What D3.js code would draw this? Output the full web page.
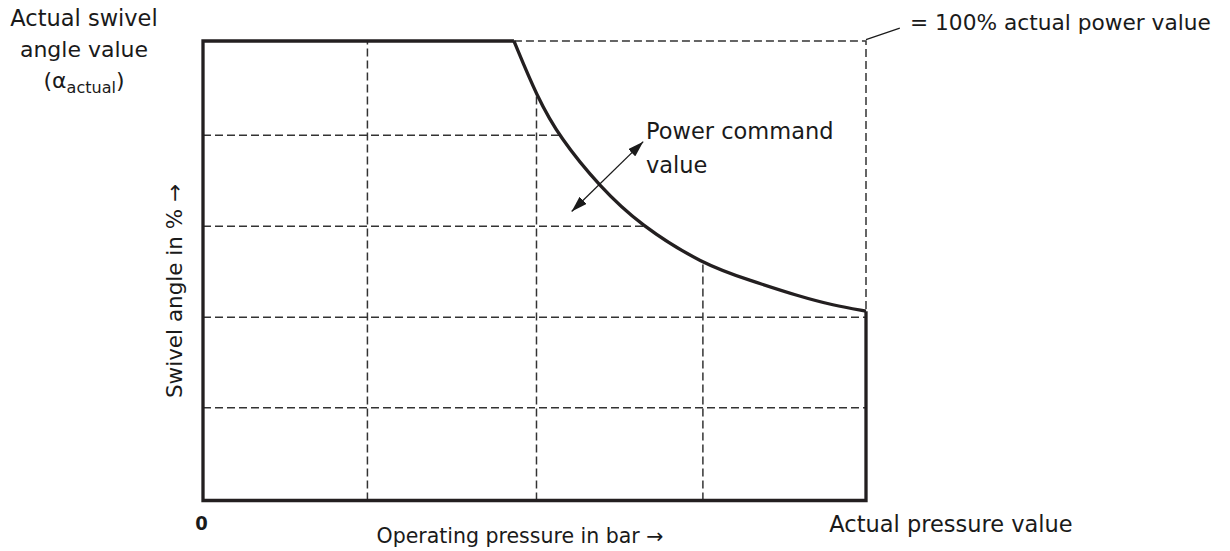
<!DOCTYPE html>
<html>
<head>
<meta charset="utf-8">
<script src="https://cdn.jsdelivr.net/npm/d3@7/dist/d3.min.js"></script>
<style>
  html, body { margin: 0; padding: 0; background: #fff; }
  svg { display: block; }
  text { font-family: "DejaVu Sans", sans-serif; fill: #1a1a1a; }
</style>
</head>
<body>
<svg id="chart" width="1230" height="551"></svg>
<script>
// ---- data (percent of maximum) ----
const xGrid = [24.8, 50.3, 75.4];           // pressure grid lines (%)
const yGrid = [20.2, 39.9, 59.7, 79.5];     // swivel angle grid lines (%)
const curvePressure = [46.9, 50.4, 53.8, 59.9, 65.9, 75.4, 82.5, 90.0, 95.0, 100];
const curveAngle    = [100, 87.8, 79.0, 68.2, 60.0, 51.4, 47.9, 44.4, 42.5, 41.2];
const arrowPoints   = [[55.6, 62.9], [66.4, 78.1]];  // power command arrow (%)
const leaderPoints  = [[100, 100.3], [105.1, 102.8]]; // 100% leader (%)
const labels = {
  yTop: ["Actual swivel", "angle value"],
  ySub: "actual",
  yAxis: "Swivel angle in % \u2192",
  xAxis: "Operating pressure in bar \u2192",
  xEnd: "Actual pressure value",
  zero: "0",
  power: ["Power command", "value"],
  full: "= 100% actual power value"
};

const svg = d3.select("#chart");
const x = d3.scaleLinear().domain([0, 100]).range([203, 866]);
const y = d3.scaleLinear().domain([0, 100]).range([500.5, 41]);

const pts = curvePressure.map((p, i) => [p, curveAngle[i]]);
const line = d3.line().x(d => x(d[0])).y(d => y(d[1])).curve(d3.curveBasis);
const curvePath = line(pts);

// clip region under the power curve
const defs = svg.append("defs");
defs.append("clipPath").attr("id", "under")
  .append("path")
  .attr("d", `M${x(0)},${y(0)}L${x(0)},${y(100)}` + curvePath.replace(/^M/, "L") + `L${x(100)},${y(0)}Z`);

defs.append("marker").attr("id", "ah")
  .attr("viewBox", "0 0 16 10").attr("refX", 16).attr("refY", 5)
  .attr("markerWidth", 16).attr("markerHeight", 10)
  .attr("markerUnits", "userSpaceOnUse").attr("orient", "auto-start-reverse")
  .append("path").attr("d", "M0,0L16,5L0,10Z").attr("fill", "#1a1a1a");

const dashColor = "#333";
const dash = "8,4";
const grid = svg.append("g").attr("clip-path", "url(#under)")
  .attr("stroke", dashColor).attr("stroke-width", 1.5).attr("stroke-dasharray", dash).attr("fill", "none");
grid.selectAll("line.v").data(xGrid).join("line")
  .attr("x1", d => x(d)).attr("x2", d => x(d)).attr("y1", y(0)).attr("y2", y(100));
grid.selectAll("line.h").data(yGrid).join("line")
  .attr("y1", d => y(d)).attr("y2", d => y(d)).attr("x1", x(0)).attr("x2", x(100));

// dashed 100% power boundary
const first = pts[0], last = pts[pts.length - 1];
svg.append("path")
  .attr("d", `M${x(first[0])},${y(100)}L${x(100)},${y(100)}L${x(100)},${y(last[1])}`)
  .attr("fill", "none").attr("stroke", dashColor).attr("stroke-width", 1.5).attr("stroke-dasharray", dash);

// solid outline + curve
const solid = "#231f20";
svg.append("path")
  .attr("d", `M${x(first[0])},${y(100)}L${x(0)},${y(100)}L${x(0)},${y(0)}L${x(100)},${y(0)}L${x(100)},${y(last[1])}`)
  .attr("fill", "none").attr("stroke", solid).attr("stroke-width", 3.3).attr("stroke-linejoin", "miter");
svg.append("path").attr("d", curvePath)
  .attr("fill", "none").attr("stroke", solid).attr("stroke-width", 3.3);

// power command double arrow
svg.append("line")
  .attr("x1", x(arrowPoints[0][0])).attr("y1", y(arrowPoints[0][1]))
  .attr("x2", x(arrowPoints[1][0])).attr("y2", y(arrowPoints[1][1]))
  .attr("stroke", "#1a1a1a").attr("stroke-width", 1.3)
  .attr("marker-start", "url(#ah)").attr("marker-end", "url(#ah)");

// leader line
svg.append("line")
  .attr("x1", x(leaderPoints[0][0])).attr("y1", y(leaderPoints[0][1]))
  .attr("x2", x(leaderPoints[1][0])).attr("y2", y(leaderPoints[1][1]))
  .attr("stroke", "#1a1a1a").attr("stroke-width", 1.2);

// texts
const fs = 22;
svg.append("text").attr("x", 84).attr("y", 25.5).attr("text-anchor", "middle").attr("font-size", 22.5).text(labels.yTop[0]);
svg.append("text").attr("x", 84).attr("y", 57).attr("text-anchor", "middle").attr("font-size", fs).text(labels.yTop[1]);
const t3 = svg.append("text").attr("x", 84).attr("y", 88).attr("text-anchor", "middle").attr("font-size", fs);
t3.append("tspan").text("(\u03b1");
t3.append("tspan").attr("font-size", 16).attr("dy", 5).text(labels.ySub);
t3.append("tspan").attr("dy", -5).text(")");

svg.append("text").attr("x", 910).attr("y", 29.5).attr("font-size", 21.7).text(labels.full);
svg.append("text").attr("x", 646).attr("y", 139).attr("font-size", 22.5).text(labels.power[0]);
svg.append("text").attr("x", 646).attr("y", 172.5).attr("font-size", 22.5).text(labels.power[1]);

svg.append("text").attr("transform", "translate(182,291) rotate(-90)")
  .attr("text-anchor", "middle").attr("font-size", 21.5).text(labels.yAxis);
svg.append("text").attr("x", 520).attr("y", 542.5).attr("text-anchor", "middle").attr("font-size", 20.5).text(labels.xAxis);
svg.append("text").attr("x", 951).attr("y", 531.5).attr("text-anchor", "middle").attr("font-size", 22.5).text(labels.xEnd);
svg.append("text").attr("x", 201.5).attr("y", 530).attr("text-anchor", "middle")
  .style("font-family", "'Liberation Sans Narrow', 'DejaVu Sans Condensed', sans-serif")
  .attr("font-weight", "bold").attr("font-size", 20).text(labels.zero);
</script>
</body>
</html>
